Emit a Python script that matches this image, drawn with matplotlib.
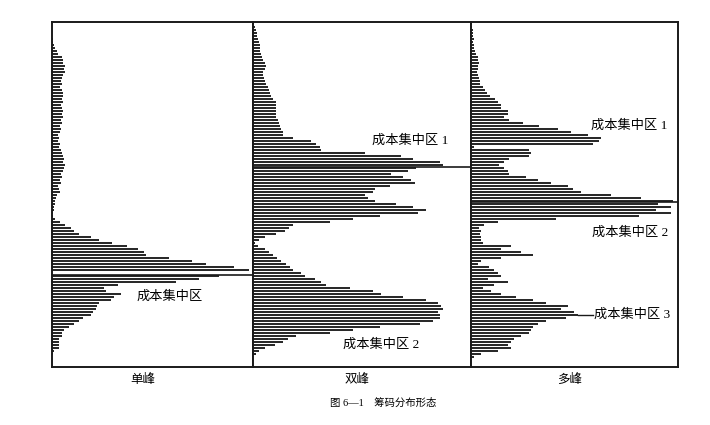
import numpy as np
import matplotlib
matplotlib.use("Agg")
import matplotlib.pyplot as plt

plt.rcParams['font.family'] = ['Liberation Serif', 'Noto Sans CJK SC', 'DejaVu Sans']

# chip volume per price level, listed from the top price down (same levels in all panels)
single_peak = [0, 0, 0, 0, 0, 1, 1, 2, 3, 5, 6, 10, 11, 11, 13, 12, 13, 11, 10, 9,
               10, 8, 10, 11, 11, 10, 11, 9, 10, 11, 10, 11, 9, 10, 8, 9, 8, 6, 7, 6,
               8, 7, 9, 10, 11, 12, 11, 13, 12, 11, 9, 10, 8, 9, 6, 7, 8, 5, 4, 3,
               3, 2, 2, 1, 1, 3, 8, 13, 19, 22, 27, 39, 47, 60, 75, 86, 92, 94, 117, 140,
               154, 182, 197, 0, 167, 147, 124, 66, 52, 54, 69, 62, 59, 47, 45, 44, 41, 39, 31, 27,
               22, 17, 12, 10, 10, 7, 7, 7, 7, 2, 1, 0]
double_peak = [1, 2, 3, 4, 4, 5, 6, 7, 7, 7, 8, 9, 10, 12, 13, 12, 10, 10, 11, 12,
               13, 15, 16, 17, 18, 20, 23, 23, 23, 23, 23, 23, 25, 26, 27, 28, 30, 30, 40, 58,
               63, 67, 68, 112, 148, 160, 187, 190, 163, 155, 138, 150, 158, 162, 137, 122, 120, 112, 115, 122,
               143, 160, 173, 165, 127, 100, 77, 40, 36, 32, 23, 12, 6, 2, 5, 12, 16, 20, 24, 28,
               33, 37, 40, 48, 52, 62, 68, 73, 97, 120, 128, 150, 173, 185, 188, 190, 185, 187, 187, 180,
               167, 127, 100, 77, 43, 35, 30, 22, 12, 6, 3, 0]
multi_peak = [1, 1, 2, 2, 2, 3, 2, 3, 3, 4, 5, 7, 7, 8, 7, 7, 6, 7, 8, 9,
              9, 12, 14, 16, 19, 24, 27, 30, 30, 37, 37, 33, 38, 52, 68, 87, 100, 117, 130, 128,
              122, 3, 58, 60, 58, 38, 33, 28, 33, 37, 38, 55, 67, 80, 97, 102, 110, 140, 170, 202,
              187, 200, 185, 200, 168, 85, 27, 13, 8, 10, 9, 10, 10, 12, 40, 30, 50, 62, 30, 10,
              7, 18, 23, 27, 30, 17, 37, 23, 12, 20, 30, 45, 62, 75, 97, 90, 103, 107, 95, 75,
              67, 62, 60, 58, 50, 43, 40, 37, 40, 27, 10, 3]

panel_names = ['单峰', '双峰', '多峰']
panel_data = [single_peak, double_peak, multi_peak]
# level of the cost-concentration marker line in each panel
marker_levels = [83.5, 47.67, 59.33]
captions = [['成本集中区'], ['成本集中区 1', '成本集中区 2'],
            ['成本集中区 1', '成本集中区 2', '成本集中区 3']]
title = '图 6—1　筹码分布形态'

W, H = 710, 425
fig = plt.figure(figsize=(W / 100, H / 100), dpi=100)
fig.patch.set_facecolor('white')

# panel edges in pixels; one price level every 3 px, first level centred at 24 px
edges = [52, 252.5, 470.5, 678]
top_px, bot_px = 22.5, 366.5
first_px, pitch = 24.0, 3.0
bar_color = '#2a2a2a'
frame_color = '#1a1a1a'


def lvl(ypx):
    return (ypx - first_px) / pitch


axes = []
for i in range(3):
    x0, x1 = edges[i], edges[i + 1]
    ax = fig.add_axes([x0 / W, 1 - bot_px / H, (x1 - x0) / W, (bot_px - top_px) / H])
    vals = np.array(panel_data[i])
    levels = np.arange(len(vals))
    ax.barh(levels, vals, height=2 / 3, color=bar_color, linewidth=0, antialiased=False)
    ax.set_xlim(0, x1 - x0)
    ax.set_ylim(lvl(bot_px), lvl(top_px))
    ax.axhline(marker_levels[i], color=frame_color, lw=1.2)
    ax.set_xticks([])
    ax.set_yticks([])
    for s in ax.spines.values():
        s.set_color(frame_color)
        s.set_linewidth(1.4)
    axes.append(ax)

fs = 9.5
axes[0].text(85, lvl(297), captions[0][0], fontsize=fs, va='center', ha='left')
axes[1].text(119.5, lvl(141), captions[1][0], fontsize=fs, va='center', ha='left')
axes[1].text(90.5, lvl(345), captions[1][1], fontsize=fs, va='center', ha='left')
axes[2].text(120.5, lvl(126), captions[2][0], fontsize=fs, va='center', ha='left')
axes[2].text(121.5, lvl(233), captions[2][1], fontsize=fs, va='center', ha='left')
axes[2].text(123.5, lvl(315), captions[2][2], fontsize=fs, va='center', ha='left')
axes[2].plot([107.5, 122.5], [lvl(315), lvl(315)], color=frame_color, lw=1.0)

label_x = [143, 357, 570]
for name, lx in zip(panel_names, label_x):
    fig.text(lx / W, 1 - 380 / H, name, fontsize=9, ha='center', va='center')

fig.text(383 / W, 1 - 403 / H, title, fontsize=7.5, ha='center', va='center')

fig.savefig('out.png', dpi=100, facecolor='white')
